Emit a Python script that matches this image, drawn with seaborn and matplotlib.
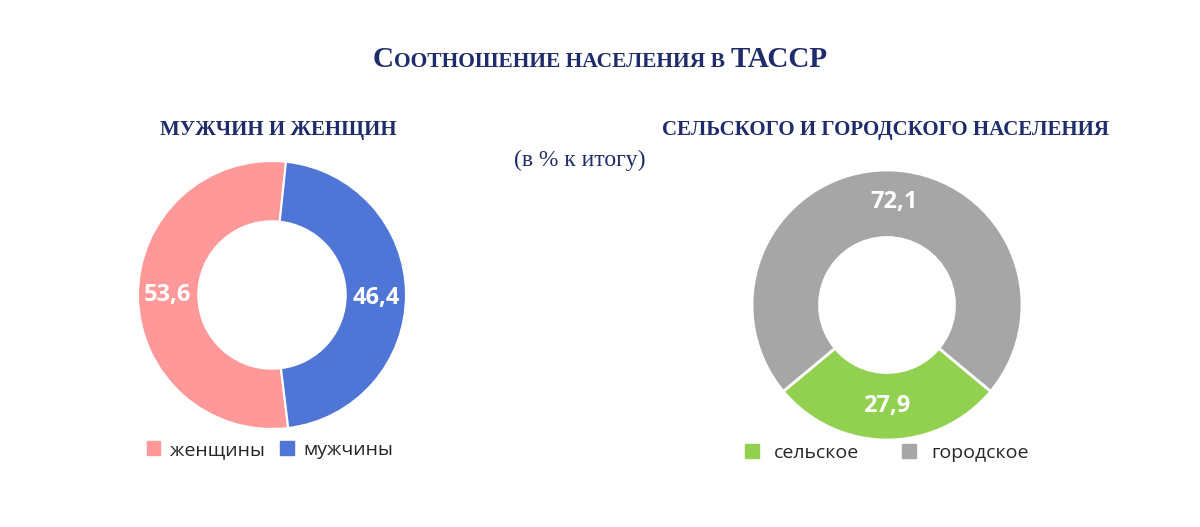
import matplotlib
matplotlib.use("Agg")
import matplotlib.pyplot as plt
import seaborn as sns
from matplotlib.patches import Patch

sns.set_theme(style="white")
plt.rcParams['font.family'] = ['Open Sans', 'DejaVu Sans']

sex_labels = ["женщины", "мужчины"]
sex_values = [53.6, 46.4]
sex_colors = ["#FF9999", "#4F76D6"]

area_labels = ["сельское", "городское"]
area_values = [27.9, 72.1]
area_colors = ["#92D050", "#A6A6A6"]

W, H = 1200, 527
fig = plt.figure(figsize=(12, 5.27), dpi=100)
navy = "#1F2C6B"

def ax_at(cx, cy, r):
    return fig.add_axes([(cx - r) / W, (H - cy - r) / H, 2 * r / W, 2 * r / H])

# left donut
ax1 = ax_at(272, 295, 134)
ax1.pie(sex_values, colors=sex_colors, startangle=84, counterclock=True,
        radius=1, wedgeprops=dict(width=0.45, edgecolor="white", linewidth=1.5))
ax1.set_xlim(-1, 1); ax1.set_ylim(-1, 1); ax1.set_aspect("equal"); ax1.axis("off")
ax1.text(-0.78, 0.0, f"{sex_values[0]:.1f}".replace(".", ","), color="white",
         fontsize=17, fontweight="bold", ha="center", va="center")
ax1.text(0.78, -0.02, f"{sex_values[1]:.1f}".replace(".", ","), color="white",
         fontsize=17, fontweight="bold", ha="center", va="center")

# right donut
ax2 = ax_at(887, 305, 135)
start = 270 - area_values[0] * 3.6 / 2
ax2.pie(area_values, colors=area_colors, startangle=start, counterclock=True,
        radius=1, wedgeprops=dict(width=0.5, edgecolor="white", linewidth=2))
ax2.set_xlim(-1, 1); ax2.set_ylim(-1, 1); ax2.set_aspect("equal"); ax2.axis("off")
ax2.text(0.0, -0.75, f"{area_values[0]:.1f}".replace(".", ","), color="white",
         fontsize=17, fontweight="bold", ha="center", va="center")
ax2.text(0.05, 0.76, f"{area_values[1]:.1f}".replace(".", ","), color="white",
         fontsize=17, fontweight="bold", ha="center", va="center")

# small-caps title built from pieces
pieces = [("С", 21), ("ООТНОШЕНИЕ НАСЕЛЕНИЯ В ", 15.5), ("ТАССР", 21)]
fig.canvas.draw()
r = fig.canvas.get_renderer()
tmp = []
total = 0
for s, fs in pieces:
    t = fig.text(0, 0, s, fontsize=fs, fontweight="bold", family="Liberation Serif")
    w = t.get_window_extent(renderer=r).width
    tmp.append((t, w)); total += w
x = 600 - total / 2
for (t, w), (s, fs) in zip(tmp, pieces):
    t.set_position((x / W, 1 - 67 / H)); t.set_color(navy); t.set_va("baseline")
    x += w

fig.text(278 / W, 1 - 130 / H, "МУЖЧИН И ЖЕНЩИН", ha="center", va="center",
         fontsize=15, fontweight="bold", color=navy, family="Liberation Serif")
fig.text(885 / W, 1 - 130 / H, "СЕЛЬСКОГО И ГОРОДСКОГО НАСЕЛЕНИЯ", ha="center", va="center",
         fontsize=15, fontweight="bold", color=navy, family="Liberation Serif")
fig.text(580 / W, 1 - 160 / H, "(в % к итогу)", ha="center", va="center",
         fontsize=17, color=navy, family="Liberation Serif")

# legends
h1 = [Patch(color=c, label=l) for c, l in zip(sex_colors, sex_labels)]
fig.legend(handles=h1, loc="center", bbox_to_anchor=(270 / W, 1 - 450 / H), ncol=2,
           frameon=False, fontsize=14, handlelength=0.7, handleheight=0.7,
           columnspacing=0.8, handletextpad=0.5)
h2 = [Patch(color=c, label=l) for c, l in zip(area_colors, area_labels)]
fig.legend(handles=h2, loc="center", bbox_to_anchor=(887 / W, 1 - 453 / H), ncol=2,
           frameon=False, fontsize=14, handlelength=0.7, handleheight=0.7,
           columnspacing=2.2, handletextpad=0.8)

fig.savefig("out.png", dpi=100, facecolor="white")
